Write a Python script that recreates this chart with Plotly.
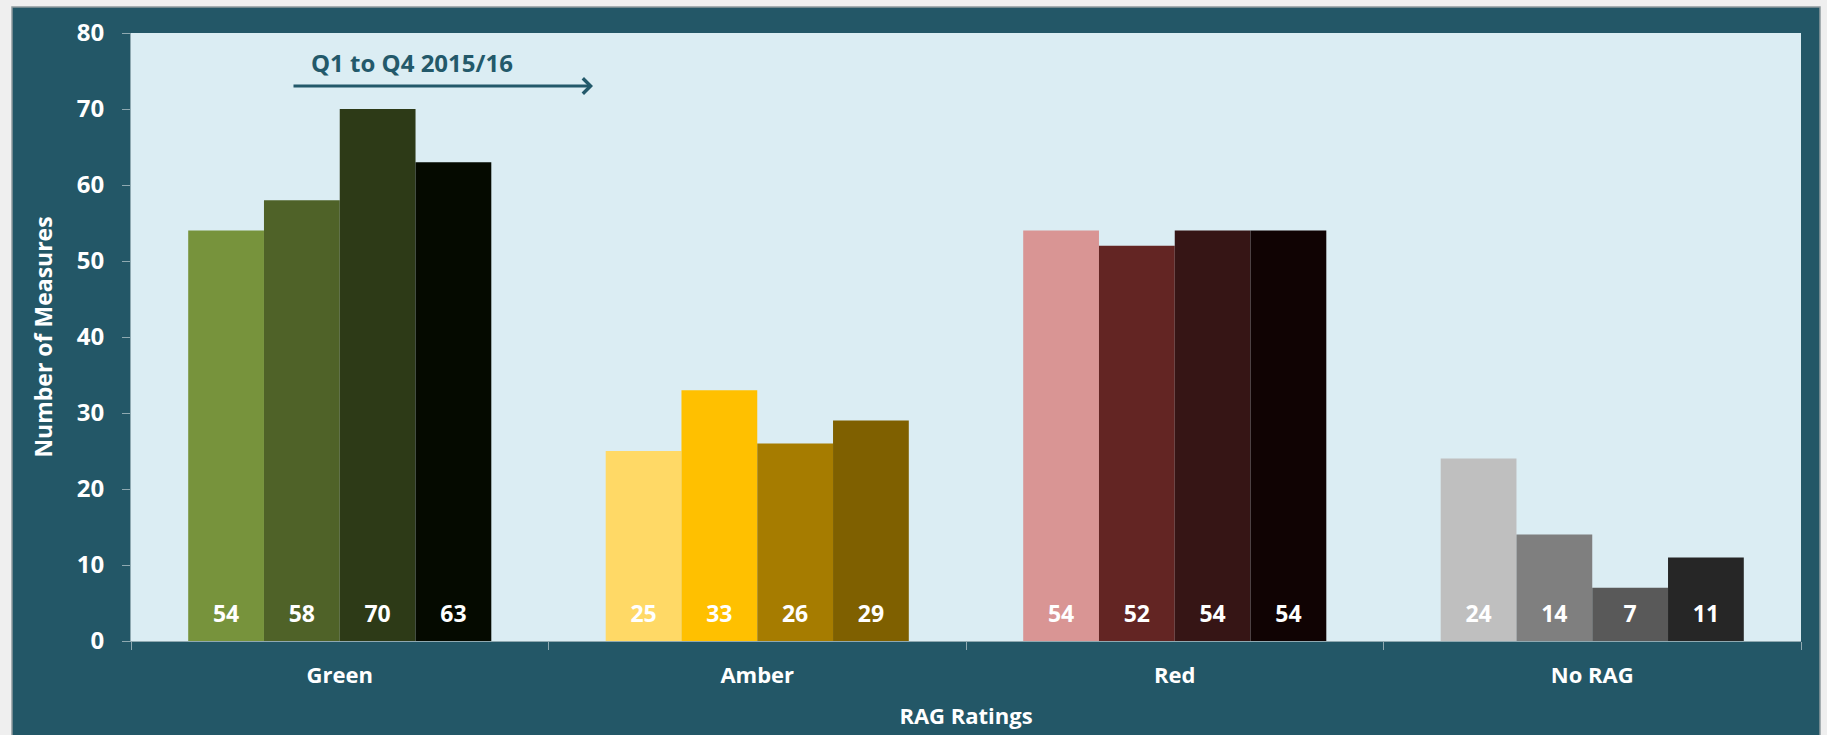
import plotly.graph_objects as go

# RAG ratings per quarter, Q1 to Q4 2015/16
categories = ["Green", "Amber", "Red", "No RAG"]
quarters = ["Q1", "Q2", "Q3", "Q4"]
q1 = [54, 25, 54, 24]
q2 = [58, 33, 52, 14]
q3 = [70, 26, 54, 7]
q4 = [63, 29, 54, 11]
y_ticks = [0, 10, 20, 30, 40, 50, 60, 70, 80]

# one colour per category, darkening through the quarters
q1_colors = ["#77933c", "#ffd966", "#d99594", "#bfbfbf"]
q2_colors = ["#4f6228", "#ffc000", "#632523", "#7f7f7f"]
q3_colors = ["#2d3a17", "#a67c00", "#361515", "#595959"]
q4_colors = ["#050a00", "#7f6000", "#100303", "#262626"]

FRAME = "#235767"
PLOT_BG = "#dbedf3"
TEAL_TEXT = "#23596a"
AXIS_GREY = "#8fa9b1"
FONT = "'Open Sans', Lato, sans-serif"
BAR_GAP = 0.274
LABEL_Y = 3.2  # value labels sit just above each bar's base

W, H = 1827, 735
M_L, M_R, M_T, M_B = 131, 26, 33, 94


def px_x(px):
    return (px - M_L) / (W - M_L - M_R)


def px_y(py):
    return (H - M_B - py) / (H - M_T - M_B)


fig = go.Figure()
for name, vals, cols in zip(quarters, [q1, q2, q3, q4],
                            [q1_colors, q2_colors, q3_colors, q4_colors]):
    fig.add_trace(go.Bar(
        x=categories,
        y=vals,
        name=name,
        offsetgroup=name,
        marker=dict(color=cols, line=dict(width=0)),
        showlegend=False,
        hovertemplate="%{x} " + name + ": %{y}<extra></extra>",
    ))

for name, vals in zip(quarters, [q1, q2, q3, q4]):
    fig.add_trace(go.Scatter(
        x=categories,
        y=[LABEL_Y] * len(vals),
        offsetgroup=name,
        mode="text",
        text=[str(v) for v in vals],
        textposition="middle center",
        textfont=dict(family=FONT, size=23, color="#ffffff", weight="bold"),
        showlegend=False,
        hoverinfo="skip",
    ))

fig.add_annotation(
    xref="paper", yref="paper", x=px_x(593), y=px_y(86),
    ax=-301, ay=0, text="", showarrow=True,
    arrowhead=4, arrowsize=1, arrowwidth=3, arrowcolor=TEAL_TEXT,
    standoff=0, startstandoff=0,
)
fig.add_annotation(
    xref="paper", yref="paper", x=px_x(412), y=px_y(63),
    text="<b>Q1 to Q4 2015/16</b>", showarrow=False,
    font=dict(family=FONT, size=24, color=TEAL_TEXT),
    xanchor="center", yanchor="middle",
)

# light grey page edges round the teal frame
for x0, x1, y0, y1 in [(0, 12, 0, H), (0, W, 0, 7), (1820, W, 0, H)]:
    fig.add_shape(type="rect", xref="paper", yref="paper",
                  x0=px_x(x0), x1=px_x(x1), y0=px_y(y1), y1=px_y(y0),
                  fillcolor="#efefef", line=dict(width=0), layer="above")
fig.add_shape(type="rect", xref="paper", yref="paper",
              x0=px_x(12), x1=px_x(1820), y0=px_y(H + 5), y1=px_y(7),
              fillcolor="rgba(0,0,0,0)", line=dict(color="#8f9a9e", width=1.5),
              layer="above")

fig.update_layout(
    width=W, height=H,
    margin=dict(l=M_L, r=M_R, t=M_T, b=M_B),
    paper_bgcolor=FRAME,
    plot_bgcolor=PLOT_BG,
    barmode="group",
    bargap=BAR_GAP,
    bargroupgap=0,
    scattermode="group",
    scattergap=BAR_GAP,
    font=dict(family=FONT, color="#ffffff"),
)
fig.update_xaxes(
    automargin=False,
    tickson="boundaries", ticks="outside", ticklen=8, tickcolor=AXIS_GREY,
    showline=True, linecolor=AXIS_GREY, linewidth=1,
    tickfont=dict(family=FONT, size=22, color="#ffffff", weight="bold"),
    ticklabelstandoff=15,
    title=dict(text="RAG Ratings", font=dict(family=FONT, size=22, color="#ffffff", weight="bold"),
               standoff=20),
    showgrid=False,
)
fig.update_yaxes(
    automargin=False,
    range=[0, 80], tickvals=y_ticks, ticks="outside", ticklen=8, tickcolor=AXIS_GREY,
    showline=True, linecolor=AXIS_GREY, linewidth=1,
    tickfont=dict(family=FONT, size=24, color="#ffffff", weight="bold"),
    ticklabelstandoff=13,
    title=dict(text="Number of Measures", font=dict(family=FONT, size=23, color="#ffffff", weight="bold"),
               standoff=17),
    showgrid=False, zeroline=False,
)

fig.write_html(
    "out.html",
    config={"displayModeBar": False},
    post_script="document.body.style.margin='0';document.body.style.background='#efefef';",
)
